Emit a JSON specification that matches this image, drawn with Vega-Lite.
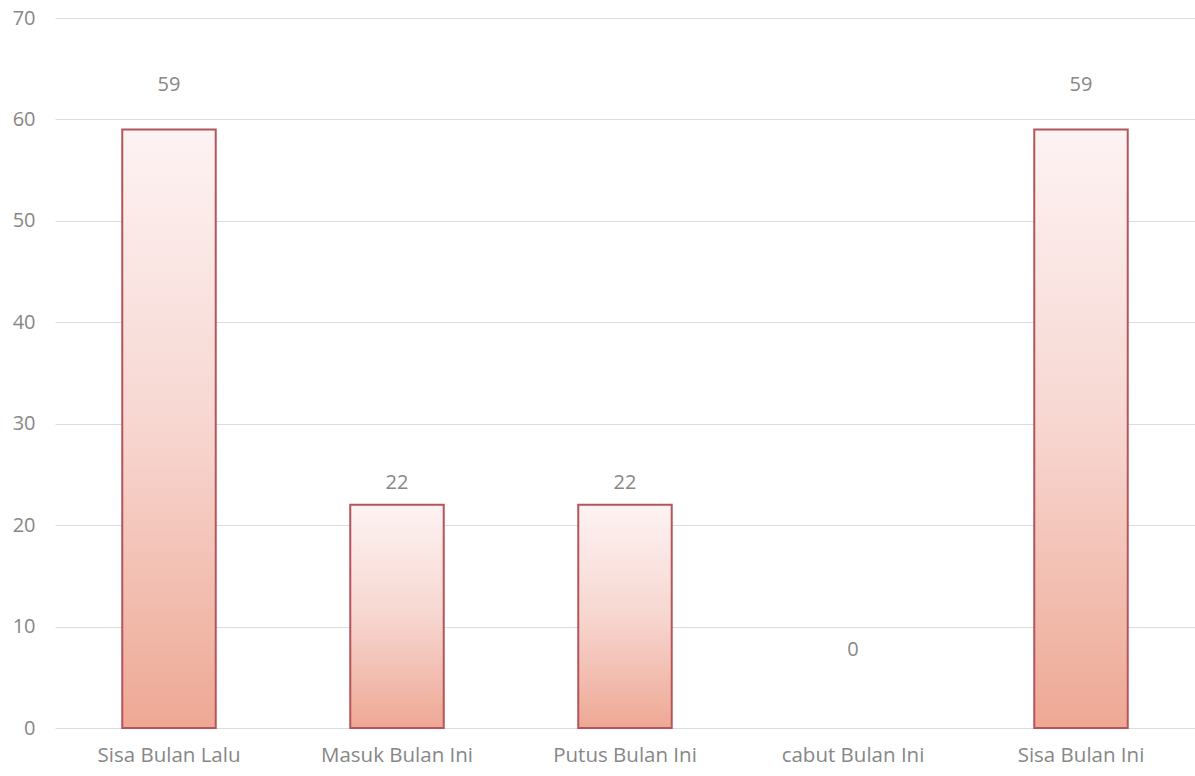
{
  "$schema": "https://vega.github.io/schema/vega-lite/v6.json",
  "width": 1140,
  "height": 710,
  "autosize": {"type": "none"},
  "padding": {"left": 55, "top": 18, "right": 0, "bottom": 48},
  "background": "#ffffff",
  "config": {
    "view": {"stroke": null},
    "font": "Open Sans"
  },
  "data": {
    "values": [
      {"kategori": "Sisa Bulan Lalu", "jumlah": 59},
      {"kategori": "Masuk Bulan Ini", "jumlah": 22},
      {"kategori": "Putus Bulan Ini", "jumlah": 22},
      {"kategori": "cabut Bulan Ini", "jumlah": 0},
      {"kategori": "Sisa Bulan Ini", "jumlah": 59}
    ]
  },
  "encoding": {
    "x": {
      "field": "kategori",
      "type": "nominal",
      "sort": ["Sisa Bulan Lalu", "Masuk Bulan Ini", "Putus Bulan Ini", "cabut Bulan Ini", "Sisa Bulan Ini"],
      "scale": {"paddingInner": 0.59, "paddingOuter": 0.295},
      "axis": {
        "title": null,
        "labelAngle": 0,
        "domain": false,
        "ticks": false,
        "labelFontSize": 20.5,
        "labelColor": "#878787",
        "labelPadding": 17,
        "labelFont": "Open Sans"
      }
    },
    "y": {
      "field": "jumlah",
      "type": "quantitative",
      "scale": {"domain": [0, 70], "nice": false},
      "axis": {
        "title": null,
        "values": [0, 10, 20, 30, 40, 50, 60, 70],
        "domain": false,
        "ticks": false,
        "labelFontSize": 20,
        "labelColor": "#878787",
        "labelPadding": 20,
        "gridColor": "#dcdcdc",
        "gridWidth": 1,
        "labelFont": "Open Sans"
      }
    }
  },
  "layer": [
    {
      "mark": {
        "type": "bar",
        "stroke": "#b5545a",
        "strokeWidth": 2,
        "fill": {
          "gradient": "linear",
          "x1": 0, "y1": 0, "x2": 0, "y2": 1,
          "stops": [
            {"offset": 0, "color": "#fdf3f3"},
            {"offset": 0.5, "color": "#f7d6d0"},
            {"offset": 1, "color": "#eea894"}
          ]
        }
      },
      "transform": [{"filter": "datum.jumlah > 0"}]
    },
    {
      "transform": [{"filter": "datum.jumlah > 50"}],
      "mark": {"type": "text", "dy": -45, "fontSize": 20, "color": "#878787", "baseline": "middle"},
      "encoding": {"text": {"field": "jumlah", "type": "quantitative"}}
    },
    {
      "transform": [{"filter": "datum.jumlah > 0 && datum.jumlah <= 50"}],
      "mark": {"type": "text", "dy": -22, "fontSize": 20, "color": "#878787", "baseline": "middle"},
      "encoding": {"text": {"field": "jumlah", "type": "quantitative"}}
    },
    {
      "transform": [{"filter": "datum.jumlah == 0"}],
      "mark": {"type": "text", "dy": -78, "fontSize": 20, "color": "#878787", "baseline": "middle"},
      "encoding": {"text": {"field": "jumlah", "type": "quantitative"}}
    }
  ]
}
